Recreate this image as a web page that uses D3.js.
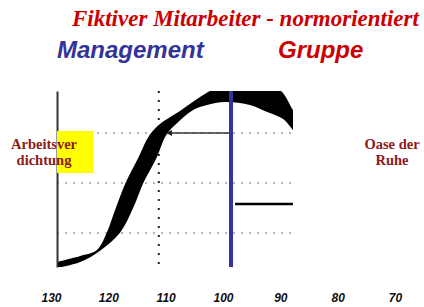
<!DOCTYPE html>
<html lang="de">
<head>
<meta charset="UTF-8">
<title>Fiktiver Mitarbeiter - normorientiert</title>
<script src="https://d3js.org/d3.v7.min.js"></script>
<style>
  body { margin: 0; background: #fff; }
  svg { display: block; }
  .serif { font-family: "Liberation Serif", "Times New Roman", serif; }
  .sans { font-family: "Liberation Sans", Arial, sans-serif; }
</style>
</head>
<body>
<div id="chart"></div>
<script>
// Skala unten (Werte der Achsenbeschriftung)
const xTicks = [130, 120, 110, 100, 90, 80, 70];
// gepunktete horizontale Linien (Höhe in Rasterstufen)
const gridLevels = [1, 2, 3];
// Kurvenband: obere/linke Kante und untere/rechte Kante, [Wert, Höhe]
const upperEdge = [
  [128.95, 0.42], [124.9, 0.54], [122.0, 0.66], [120.3, 1.0], [118.7, 1.5],
  [117.0, 2.0], [114.8, 2.5], [112.8, 2.96], [111.0, 3.18], [109.2, 3.32],
  [107.5, 3.44], [105.8, 3.58], [104.0, 3.72], [102.3, 3.84], [99.7, 3.96],
  [95.3, 4.02], [91.8, 3.96], [89.7, 3.82], [87.8, 3.46], [86.6, 3.26]
];
const lowerEdge = [
  [128.95, 0.30], [124.9, 0.42], [121.5, 0.64], [118.0, 1.0], [115.6, 1.52],
  [113.9, 2.0], [111.6, 2.5], [109.9, 2.96], [107.8, 3.22], [105.2, 3.46],
  [102.8, 3.56], [99.7, 3.62], [95.3, 3.56], [92.3, 3.42], [89.5, 3.28],
  [87.8, 3.06], [86.6, 2.92]
];
const plotX = [128.95, 87.8];      // sichtbarer Bereich
const plotY = [0.32, 3.84];
const meanLine = 111.2;            // gestrichelte Senkrechte
const normLine = 98.6;             // blaue Linie
const arrowLevel = 3.0;
const arrowTip = 109.8;
const plateauFrom = 97.9;
const plateauLevel = 1.58;

const W = 424, H = 307;
const svg = d3.select('#chart').append('svg')
  .attr('width', W).attr('height', H);

const x = d3.scaleLinear().domain([130, 70]).range([51, 395]);
const y = d3.scaleLinear().domain(plotY).range([267, 91]);

const pLeft = x(plotX[0]), pRight = x(plotX[1]);
const pTop = y(plotY[1]), pBottom = y(plotY[0]);

svg.append('clipPath').attr('id', 'plot')
  .append('rect')
  .attr('x', pLeft).attr('y', pTop)
  .attr('width', pRight - pLeft).attr('height', pBottom - pTop);

// Titel
svg.append('text').attr('class', 'serif')
  .attr('x', 72).attr('y', 26)
  .style('font-size', '23px').style('font-weight', 'bold').style('font-style', 'italic')
  .attr('fill', '#cc0000')
  .text('Fiktiver Mitarbeiter - normorientiert');

svg.append('text').attr('class', 'sans')
  .attr('x', 57).attr('y', 58)
  .style('font-size', '24px').style('font-weight', 'bold').style('font-style', 'italic')
  .attr('fill', '#333399')
  .text('Management');

svg.append('text').attr('class', 'sans')
  .attr('x', 278).attr('y', 58)
  .style('font-size', '24px').style('font-weight', 'bold').style('font-style', 'italic')
  .attr('fill', '#cc0000')
  .text('Gruppe');

// Hilfslinien
svg.append('g').selectAll('line')
  .data(gridLevels)
  .join('line')
  .attr('x1', pLeft).attr('x2', pRight)
  .attr('y1', d => y(d)).attr('y2', d => y(d))
  .attr('stroke', '#666').attr('stroke-width', 1.2)
  .attr('stroke-dasharray', '2,6');

svg.append('line')
  .attr('x1', x(meanLine)).attr('x2', x(meanLine))
  .attr('y1', pTop).attr('y2', pBottom)
  .attr('stroke', '#222').attr('stroke-width', 2)
  .attr('stroke-dasharray', '2,7');

// Kurvenband
const line = d3.line()
  .x(d => x(d[0])).y(d => y(d[1]))
  .curve(d3.curveCatmullRom.alpha(0.5));
const bandPath = line(upperEdge) + 'L' + line(lowerEdge.slice().reverse()).slice(1) + 'Z';

svg.append('path')
  .attr('clip-path', 'url(#plot)')
  .attr('d', bandPath)
  .attr('fill', '#000');

// Pfeil zur Kurve
svg.append('defs').append('marker')
  .attr('id', 'arrow')
  .attr('viewBox', '0 0 10 10')
  .attr('refX', 9).attr('refY', 5)
  .attr('markerWidth', 6).attr('markerHeight', 6)
  .attr('markerUnits', 'userSpaceOnUse')
  .attr('orient', 'auto')
  .append('path')
  .attr('d', 'M0,0L10,5L0,10Z')
  .attr('fill', '#222');

svg.append('line')
  .attr('x1', x(normLine)).attr('x2', x(arrowTip))
  .attr('y1', y(arrowLevel)).attr('y2', y(arrowLevel))
  .attr('stroke', '#333').attr('stroke-width', 1.5)
  .attr('marker-end', 'url(#arrow)');

// Plateau rechts
svg.append('line')
  .attr('x1', x(plateauFrom)).attr('x2', pRight)
  .attr('y1', y(plateauLevel)).attr('y2', y(plateauLevel))
  .attr('stroke', '#000').attr('stroke-width', 2.5);

// blaue Norm-Linie
svg.append('line')
  .attr('x1', x(normLine)).attr('x2', x(normLine))
  .attr('y1', pTop).attr('y2', pBottom)
  .attr('stroke', '#333399').attr('stroke-width', 4);

// linke Achse
svg.append('g')
  .attr('transform', `translate(${pLeft},0)`)
  .call(d3.axisLeft(y).ticks(0).tickSizeOuter(0))
  .call(g => g.select('.domain').attr('stroke', '#333').attr('stroke-width', 2));

// gelbe Markierung
svg.append('rect')
  .attr('x', pLeft).attr('y', 131)
  .attr('width', 36).attr('height', 42)
  .attr('fill', '#ffff00');

const sideLabels = [
  { lines: ['Arbeitsver', 'dichtung'], cx: 44 },
  { lines: ['Oase der', 'Ruhe'], cx: 392 }
];
sideLabels.forEach(l => {
  svg.append('text').attr('class', 'serif')
    .attr('text-anchor', 'middle')
    .style('font-size', '14.5px').style('font-weight', 'bold')
    .attr('fill', '#8c1a1a')
    .selectAll('tspan')
    .data(l.lines)
    .join('tspan')
    .attr('x', l.cx)
    .attr('y', (d, i) => 149 + i * 15.5)
    .text(d => d);
});

// untere Skala
svg.append('g')
  .attr('transform', 'translate(0,290)')
  .call(d3.axisBottom(x).tickValues(xTicks).tickSize(0).tickPadding(3))
  .call(g => g.select('.domain').remove())
  .call(g => g.selectAll('text')
    .attr('class', 'sans')
    .style('font-size', '12px').style('font-weight', 'bold').style('font-style', 'italic')
    .attr('fill', '#111'));
</script>
</body>
</html>
